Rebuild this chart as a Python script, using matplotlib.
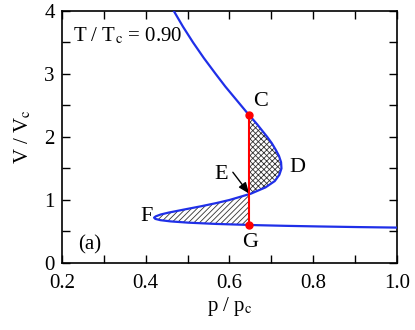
import numpy as np
import matplotlib
matplotlib.use('Agg')
import matplotlib.pyplot as plt
from matplotlib.ticker import MultipleLocator

plt.rcParams['font.family'] = ['Liberation Serif', 'DejaVu Serif']
plt.rcParams['mathtext.fontset'] = 'stix'
plt.rcParams['hatch.linewidth'] = 0.6

# isotherm (V/Vc, p/pc)
v_vals = [0.56, 0.57, 0.58, 0.59, 0.60, 0.62, 0.64, 0.66, 0.68, 0.70, 0.72,
          0.74, 0.77, 0.80, 0.85, 0.90, 0.95, 1.00, 1.10, 1.20, 1.30, 1.40,
          1.50, 1.60, 1.70, 1.80, 1.90, 2.00, 2.20, 2.40, 2.60, 2.80, 3.00,
          3.25, 3.50, 3.75, 4.00, 4.10]
p_vals = [1.022, 0.907, 0.812, 0.733, 0.667, 0.568, 0.502, 0.460, 0.435,
          0.423, 0.420, 0.424, 0.436, 0.455, 0.493, 0.532, 0.568, 0.600,
          0.651, 0.686, 0.708, 0.719, 0.724, 0.723, 0.718, 0.710, 0.701,
          0.690, 0.666, 0.640, 0.615, 0.590, 0.567, 0.539, 0.513, 0.489,
          0.467, 0.459]

p_sat = 0.647
v_liq, v_mid, v_gas = 0.603, 1.09, 2.35

v = np.array(v_vals)
p = np.array(p_vals)

fig = plt.figure(figsize=(4.15, 3.30), dpi=100)
ax = fig.add_axes([0.149, 0.203, 0.808, 0.764])

# hatched areas between the tie line and the loop
upper = (v >= 1.0) & (v <= 2.5)
ax.fill_betweenx(v[upper], p_sat, p[upper], where=p[upper] >= p_sat,
                 interpolate=True, facecolor='none', edgecolor='#333333',
                 hatch='xxxxxx', linewidth=0)
lower = (v >= 0.59) & (v <= 1.2)
ax.fill_betweenx(v[lower], p_sat, p[lower], where=p[lower] <= p_sat,
                 interpolate=True, facecolor='none', edgecolor='#333333',
                 hatch='//////', linewidth=0)

ax.plot(p, v, color='#1f2fe8', lw=1.6, zorder=3)
ax.plot([p_sat, p_sat], [v_liq, v_gas], color='red', lw=1.5, zorder=4)
ax.plot([p_sat, p_sat], [v_liq, v_gas], 'o', color='red', ms=5, zorder=5)

ax.annotate('', xy=(p_sat, 1.1), xytext=(0.608, 1.44),
            arrowprops=dict(arrowstyle='-|>,head_width=0.22,head_length=0.55',
                            color='black', lw=1.0,
                            mutation_scale=12, shrinkA=0, shrinkB=0))

fs = 16
ax.text(0.673, 2.56, 'C', fontsize=fs, ha='center', va='center')
ax.text(0.762, 1.51, 'D', fontsize=fs, ha='center', va='center')
ax.text(0.580, 1.41, 'E', fontsize=fs, ha='center', va='center')
ax.text(0.403, 0.73, 'F', fontsize=fs, ha='center', va='center')
ax.text(0.649, 0.33, 'G', fontsize=fs, ha='center', va='center')
ax.text(0.267, 0.29, '(a)', fontsize=15, ha='center', va='center')
ax.text(0.226, 3.6, r'T / T$_\mathrm{c}$ = 0.90', fontsize=15,
        ha='left', va='center')

ax.set_xlim(0.2, 1.0)
ax.set_ylim(0, 4)
ax.xaxis.set_major_locator(MultipleLocator(0.2))
ax.xaxis.set_minor_locator(MultipleLocator(0.1))
ax.yaxis.set_major_locator(MultipleLocator(1))
ax.yaxis.set_minor_locator(MultipleLocator(0.5))
ax.set_xticks([0.2, 0.4, 0.6, 0.8, 1.0])
ax.set_xticklabels(['0.2', '0.4', '0.6', '0.8', '1.0'])
ax.tick_params(which='both', direction='in', top=True, right=True,
               labelsize=15, width=1.0, length=6)
ax.tick_params(axis='x', pad=8)
ax.tick_params(axis='y', pad=5)
for s in ax.spines.values():
    s.set_linewidth(1.2)

ax.set_xlabel(r'p / p$_\mathrm{c}$', fontsize=15, labelpad=1)
ax.set_ylabel(r'V / V$_\mathrm{c}$', fontsize=15, labelpad=8)

fig.savefig('out.png', dpi=100)
